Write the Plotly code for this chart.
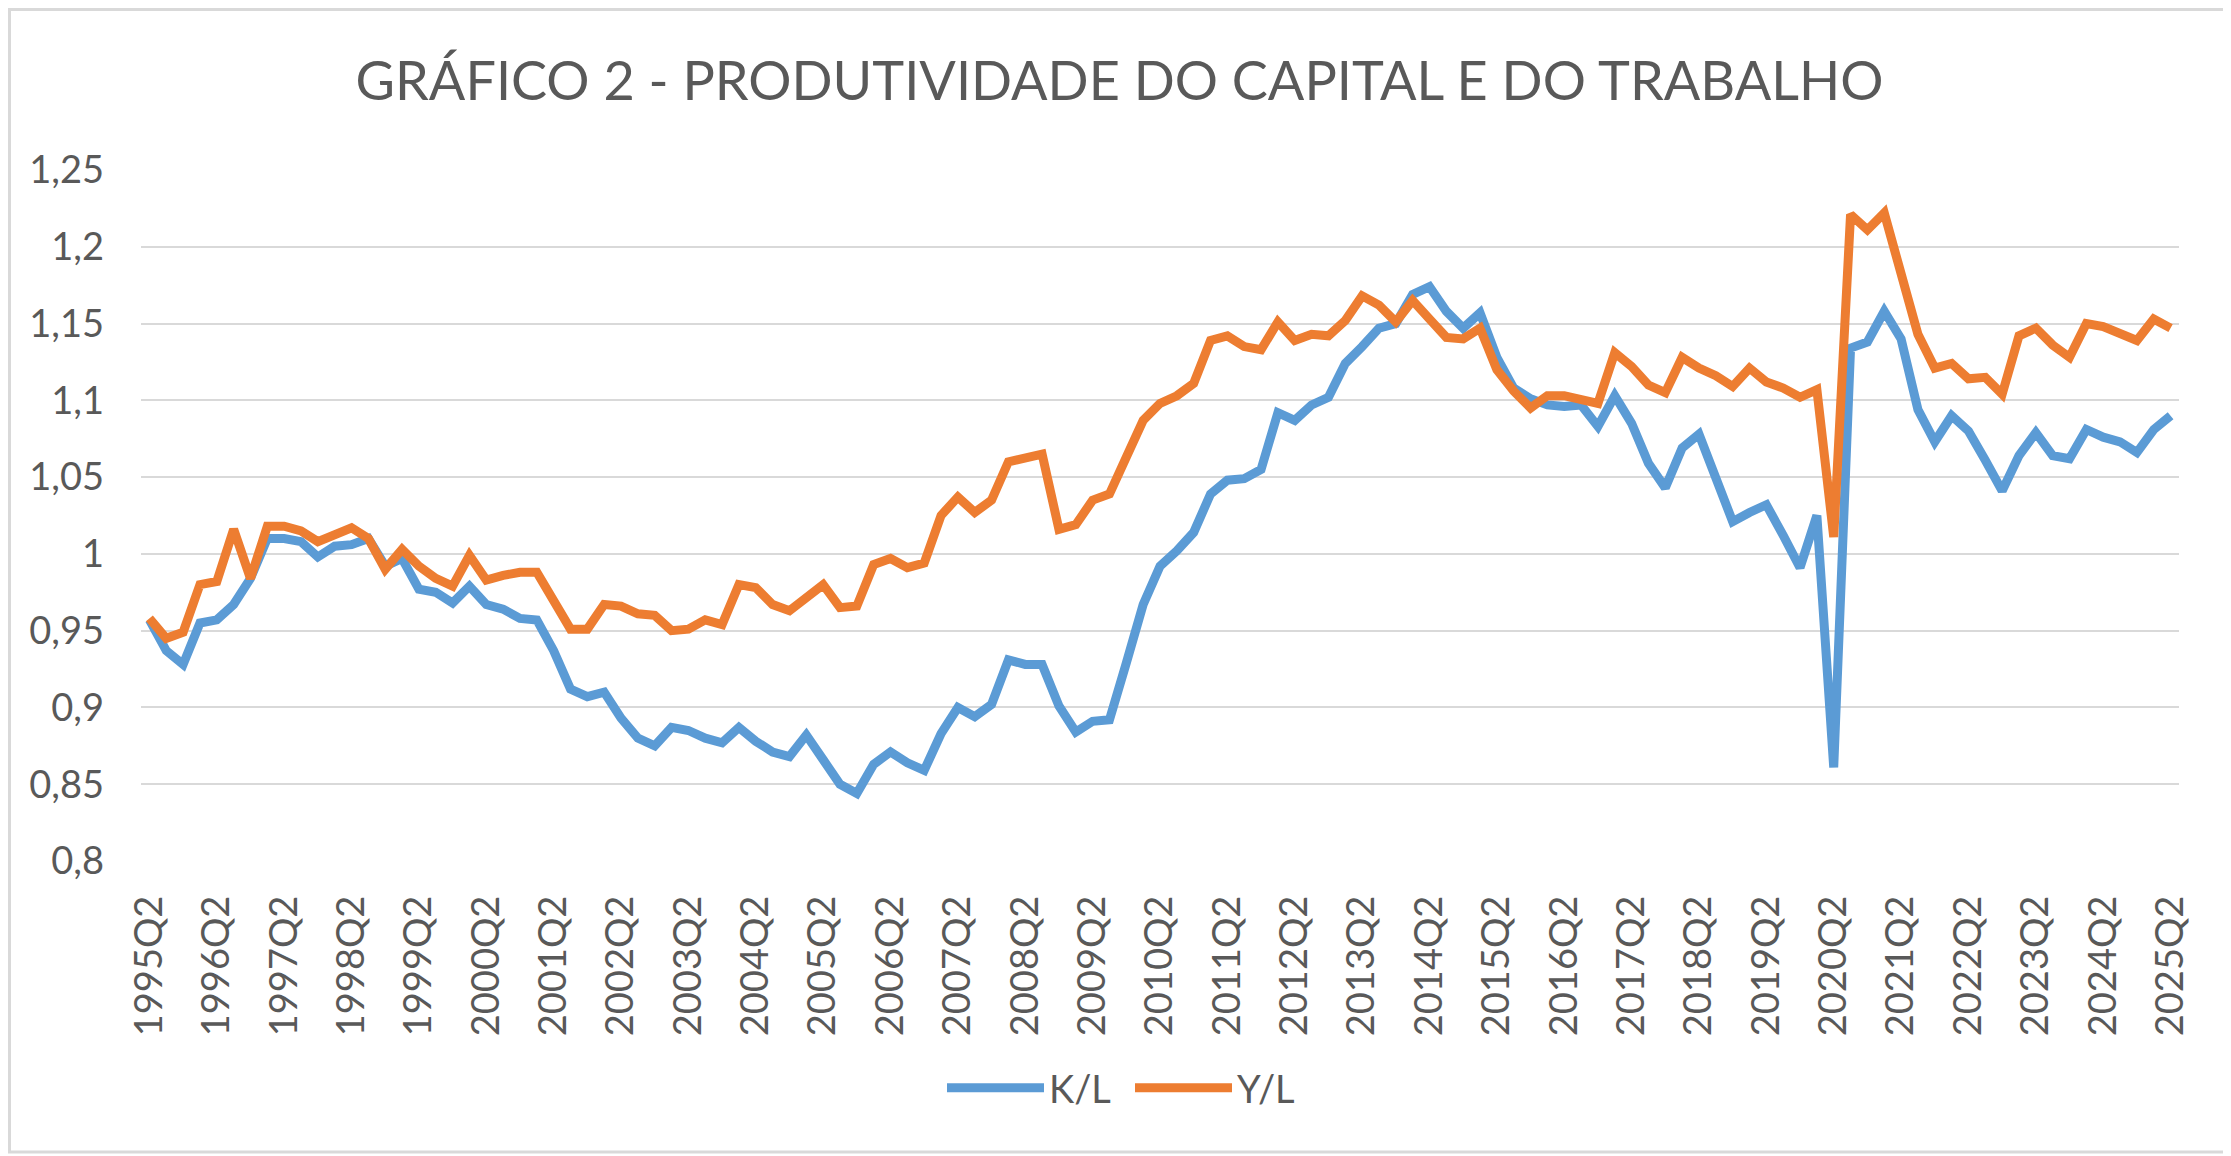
import plotly.graph_objects as go

# Categories: quarters 1995Q2 .. 2025Q2
quarters = [f"{y}Q{q}" for y in range(1995, 2026) for q in range(1, 5)]
quarters = quarters[quarters.index("1995Q2"):quarters.index("2025Q2") + 1]

tick_labels = [f"{y}Q2" for y in range(1995, 2026)]

# K/L series (blue)
k_l = [
    0.957, 0.937, 0.928, 0.955, 0.957, 0.967, 0.984, 1.010, 1.010, 1.008,
    0.998, 1.005, 1.006, 1.010, 0.992, 0.997, 0.977, 0.975, 0.968, 0.979,
    0.967, 0.964, 0.958, 0.957, 0.937, 0.912, 0.907, 0.910, 0.893, 0.880,
    0.875, 0.887, 0.885, 0.880, 0.877, 0.887, 0.878, 0.871, 0.868, 0.882,
    0.866, 0.850, 0.844, 0.863, 0.871, 0.864, 0.859, 0.883, 0.900, 0.894,
    0.902, 0.931, 0.928, 0.928, 0.901, 0.884, 0.891, 0.892, 0.929, 0.967,
    0.992, 1.002, 1.014, 1.039, 1.048, 1.049, 1.055, 1.092, 1.087, 1.097,
    1.102, 1.124, 1.135, 1.147, 1.150, 1.169, 1.174, 1.158, 1.147, 1.157,
    1.128, 1.108, 1.101, 1.097, 1.096, 1.097, 1.083, 1.103, 1.085, 1.059,
    1.043, 1.069, 1.078, 1.048, 1.021, 1.027, 1.032, 1.012, 0.991, 1.025,
    0.861, 1.134, 1.138, 1.158, 1.140, 1.094, 1.073, 1.090, 1.080, 1.061,
    1.041, 1.064, 1.079, 1.064, 1.062, 1.081, 1.076, 1.073, 1.066, 1.081,
    1.090,
]

# Y/L series (orange)
y_l = [
    0.958, 0.945, 0.949, 0.980, 0.982, 1.016, 0.984, 1.018, 1.018, 1.015,
    1.008, 1.012, 1.017, 1.010, 0.990, 1.003, 0.992, 0.984, 0.979, 0.999,
    0.983, 0.986, 0.988, 0.988, 0.970, 0.951, 0.951, 0.967, 0.966, 0.961,
    0.960, 0.950, 0.951, 0.957, 0.954, 0.980, 0.978, 0.967, 0.963, 0.972,
    0.980, 0.965, 0.966, 0.993, 0.997, 0.991, 0.994, 1.025, 1.037, 1.027,
    1.035, 1.060, 1.062, 1.065, 1.016, 1.019, 1.035, 1.039, 1.063, 1.087,
    1.098, 1.103, 1.111, 1.139, 1.142, 1.135, 1.133, 1.151, 1.139, 1.143,
    1.142, 1.152, 1.168, 1.162, 1.151, 1.165, 1.153, 1.141, 1.140, 1.147,
    1.120, 1.106, 1.095, 1.103, 1.103, 1.101, 1.098, 1.131, 1.122, 1.110,
    1.105, 1.128, 1.121, 1.116, 1.109, 1.121, 1.112, 1.108, 1.102, 1.107,
    1.011, 1.221, 1.211, 1.222, 1.182, 1.143, 1.121, 1.124, 1.114, 1.115,
    1.104, 1.142, 1.147, 1.136, 1.128, 1.150, 1.148, 1.144, 1.139, 1.153,
    1.147,
]

y_ticks = [0.8, 0.85, 0.9, 0.95, 1.0, 1.05, 1.1, 1.15, 1.2, 1.25]
y_tick_labels = ["0,8", "0,85", "0,9", "0,95", "1", "1,05", "1,1", "1,15", "1,2", "1,25"]

TEXT = "#595959"
FONT = "Lato"

# figure is placed at an 8px page offset; compensate
W, H = 2223, 1148
ML, MR, MT, MB = 133, 52, 162, 295
PW, PH = W - ML - MR, H - MT - MB

fig = go.Figure()
fig.add_trace(go.Scatter(x=quarters, y=k_l, name="K/L", mode="lines",
                         line=dict(color="#5B9BD5", width=9)))
fig.add_trace(go.Scatter(x=quarters, y=y_l, name="Y/L", mode="lines",
                         line=dict(color="#ED7D31", width=9)))

fig.update_layout(
    width=W, height=H,
    margin=dict(l=ML, r=MR, t=MT, b=MB, autoexpand=False),
    paper_bgcolor="white", plot_bgcolor="white",
    font=dict(family=FONT, color=TEXT, size=38),
    title=dict(text="GRÁFICO 2 - PRODUTIVIDADE DO CAPITAL E DO TRABALHO",
               x=0.5, xanchor="center", y=1 - 73 / H, yanchor="middle",
               font=dict(family=FONT, size=54, color=TEXT)),
    showlegend=True,
    legend=dict(orientation="h", x=(942 - 8 - ML) / PW, xanchor="left",
                y=-(1088 - 861) / PH, yanchor="middle",
                font=dict(family=FONT, size=38, color=TEXT), itemwidth=97,
                entrywidth=76, entrywidthmode="pixels",
                traceorder="normal"),
    shapes=[dict(type="rect", xref="paper", yref="paper",
                 x0=-(ML - 1.5) / PW, x1=1 + (MR - 4) / PW,
                 y0=-(MB - 4) / PH, y1=1 + (MT - 1.5) / PH,
                 line=dict(color="#D9D9D9", width=3), fillcolor="rgba(0,0,0,0)", layer="below")],
)

fig.update_xaxes(
    type="category", range=[-0.5, len(quarters) - 0.5],
    tickmode="array", tickvals=tick_labels, ticktext=tick_labels,
    tickangle=-90, showgrid=False, showline=False, zeroline=False,
    ticks="", ticklabelstandoff=26,
    tickfont=dict(family=FONT, size=38, color=TEXT),
)
fig.update_yaxes(
    range=[0.8, 1.25], tickmode="array", tickvals=y_ticks, ticktext=y_tick_labels,
    showgrid=True, gridcolor="#D9D9D9", gridwidth=2, zeroline=False, showline=False,
    ticks="", ticklabelstandoff=36,
    tickfont=dict(family=FONT, size=38, color=TEXT),
)

fig.write_html("out.html")
